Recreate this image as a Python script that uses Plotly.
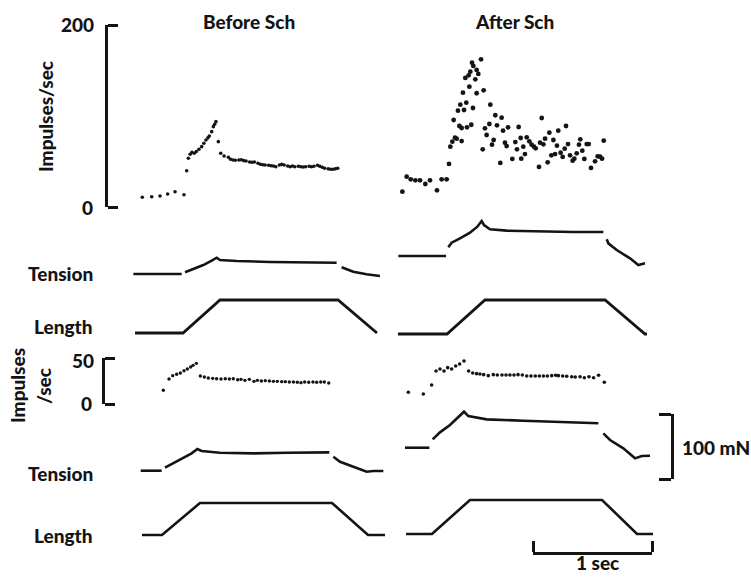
import plotly.graph_objects as go

W, H = 751, 577

# ---------------- data (time in s from stretch onset) ----------------
# Before Sch, top: impulses/sec
tl_imp_t = [-0.342, -0.263, -0.193, -0.129, -0.067, 0.008, 0.031, 0.045, 0.060, 0.075,
            0.095, 0.112, 0.134, 0.157, 0.175, 0.193, 0.210, 0.221, 0.241, 0.255,
            0.266, 0.277, 0.297, 0.317, 0.345, 0.381,
            0.40, 0.42, 0.44, 0.47, 0.49, 0.51, 0.53, 0.56, 0.58, 0.60,
            0.63, 0.65, 0.67, 0.69, 0.72, 0.74, 0.76, 0.78, 0.81, 0.83,
            0.85, 0.88, 0.90, 0.92, 0.94, 0.97, 0.99, 1.01, 1.03, 1.06,
            1.08, 1.10, 1.13, 1.15, 1.17, 1.19, 1.22, 1.24, 1.26, 1.28, 1.30]
tl_imp_v = [10.7, 11.3, 12.1, 14.3, 16.8, 13.5, 39.9, 53.5, 58.0, 60.0,
            59.0, 61.0, 63.4, 66.3, 70.0, 73.6, 76.0, 78.0, 82.8, 88.3,
            91.0, 93.8, 71.8, 59.0, 56.0, 54.6,
            52.4, 51.7, 51.3, 51.7, 52.0, 51.0, 50.5, 49.5, 49.1, 49.5,
            48.0, 47.0, 46.5, 46.1, 45.8, 45.4, 45.1, 44.3, 46.1, 46.8,
            46.1, 45.1, 44.3, 45.1, 44.3, 44.7, 44.3, 44.0, 44.3, 44.7,
            44.3, 44.7, 45.8, 44.7, 43.7, 42.6, 41.9, 41.5, 41.5, 41.9, 42.6]

# After Sch, top: impulses/sec
tr_imp_t = [-0.375, -0.339, -0.305, -0.266, -0.227, -0.182, -0.143, -0.084, -0.045, -0.003,
            0.017, 0.028, 0.045, 0.067, 0.081, 0.123, 0.056, 0.104, 0.123, 0.092,
            0.112, 0.143, 0.162, 0.134, 0.168, 0.188, 0.154, 0.182, 0.196, 0.210,
            0.221, 0.238, 0.249, 0.263, 0.286, 0.204, 0.218, 0.249, 0.308, 0.319,
            0.333, 0.300, 0.364, 0.356, 0.392, 0.378, 0.406, 0.420, 0.459, 0.471,
            0.448, 0.487, 0.501, 0.513, 0.549, 0.574, 0.588, 0.602, 0.619, 0.624,
            0.641, 0.655, 0.670, 0.692, 0.711, 0.731, 0.745, 0.773, 0.782, 0.796,
            0.810, 0.824, 0.846, 0.860, 0.877, 0.894, 0.908, 0.924, 0.935, 0.955,
            0.972, 0.989, 1.000, 1.017, 1.034, 1.056, 1.070, 1.090, 1.109, 1.120,
            1.137, 1.154, 1.174, 1.191, 1.210, 1.244, 1.266, 1.286, 1.303, 1.317]
tr_imp_v = [16.8, 33.3, 30.4, 29.3, 29.3, 25.3, 29.3, 18.3, 30.4, 30.4,
            47.3, 66.3, 71.8, 76.2, 75.1, 72.5, 95.6, 89.0, 86.8, 105.8,
            112.4, 106.6, 114.6, 125.6, 87.6, 132.2, 141.8, 144.7, 148.7, 158.6,
            155.0, 140.3, 150.6, 146.2, 162.3, 90.4, 108.8, 125.0, 128.2, 86.5,
            79.1, 63.4, 112.4, 91.2, 73.6, 68.5, 100.8, 89.8, 98.2, 83.9,
            48.4, 70.7, 67.0, 87.6, 52.8, 71.4, 63.4, 87.9, 75.8, 53.1,
            66.3, 58.2, 76.6, 72.2, 68.5, 66.3, 64.5, 44.0, 70.7, 97.8,
            68.9, 75.1, 49.1, 81.7, 56.8, 73.6, 58.2, 67.4, 83.9, 59.7,
            55.0, 64.1, 89.0, 69.2, 56.8, 50.9, 53.1, 59.0, 68.5, 74.4,
            61.9, 52.8, 69.2, 69.2, 42.9, 50.2, 55.7, 55.3, 53.1, 72.9]

# Tension (mN, relative to resting level); None = gap in trace
tl_ten_t = [-0.417, -0.011, None, 0.017, 0.087, 0.171, 0.241, 0.283, 0.311, 0.451,
            0.731, 1.011, 1.291, None, 1.333, 1.431, 1.543, 1.655]
tl_ten_v = [0.0, 0.0, None, 2.6, 7.2, 13.8, 20.5, 25.1, 21.5, 20.0,
            18.5, 17.4, 17.4, None, 10.3, 3.6, -0.5, -3.1]
tr_ten_t = [-0.409, -0.008, None, 0.011, 0.039, 0.109, 0.193, 0.255, 0.291, 0.311,
            0.361, 0.501, 0.782, 1.062, 1.314, None, 1.342, 1.356, 1.426, 1.538,
            1.608, 1.664]
tr_ten_v = [0.0, 0.0, None, 13.3, 20.5, 27.2, 35.9, 45.1, 53.8, 47.7,
            41.0, 39.0, 37.4, 36.9, 36.9, None, 25.6, 19.5, 9.2, -3.6,
            -13.8, -11.3]
bl_ten_t = [-0.179, -0.003, None, 0.025, 0.123, 0.207, 0.249, 0.297, 0.333, 0.487,
            0.768, 1.048, 1.406, None, 1.440, 1.496, 1.608, 1.720, 1.776, 1.860]
bl_ten_v = [0.0, 0.0, None, 4.6, 13.8, 21.5, 26.7, 33.4, 30.3, 27.7,
            26.7, 27.7, 28.2, None, 21.5, 13.8, 6.2, -1.5, -0.5, -0.5]
br_ten_t = [-0.227, -0.022, None, 0.006, 0.067, 0.151, 0.221, 0.269, 0.305, 0.459,
            0.768, 1.048, 1.398, None, 1.440, 1.496, 1.608, 1.706, 1.762, 1.832]
br_ten_v = [0.0, 0.0, None, 12.8, 23.6, 34.9, 46.7, 55.4, 48.7, 43.6,
            41.5, 40.0, 37.5, None, 22.1, 11.8, -1.0, -16.4, -12.8, -12.3]

# Length (relative stretch)
tl_len_t = [-0.403, 0.0, 0.311, 1.303, 1.630]
tl_len_v = [0.0, 0.0, 1.00, 1.00, 0.0]
tr_len_t = [-0.412, 0.0, 0.319, 1.328, 1.664, 1.680]
tr_len_v = [0.0, 0.0, 1.03, 1.03, 0.0, 0.0]
bl_len_t = [-0.168, 0.0, 0.319, 1.429, 1.731, 1.874]
bl_len_v = [0.0, 0.0, 0.97, 0.97, 0.0, 0.0]
br_len_t = [-0.218, 0.0, 0.319, 1.429, 1.723, 1.857]
br_len_v = [0.0, 0.0, 1.03, 1.03, 0.0, 0.0]

# Bottom: impulses/sec
bl_imp_t = [0.011, 0.059, 0.090, 0.123, 0.154, 0.185, 0.213, 0.241, 0.261, 0.289,
            0.322, 0.356, 0.389, 0.426, 0.459, 0.496, 0.532, 0.566, 0.599, 0.636,
            0.664, 0.697, 0.734, 0.773, 0.801, 0.835, 0.868, 0.902, 0.936, 0.969,
            1.006, 1.036, 1.070, 1.104, 1.137, 1.168, 1.199, 1.233, 1.269, 1.300,
            1.334, 1.364, 1.401]
bl_imp_v = [14.9, 27.2, 30.8, 32.3, 33.7, 36.2, 38.0, 40.2, 42.0, 44.2,
            30.4, 29.3, 28.3, 27.9, 27.5, 27.2, 27.5, 27.2, 27.5, 26.4,
            26.8, 25.7, 26.8, 24.6, 25.7, 25.0, 25.4, 25.0, 24.6, 24.6,
            24.3, 24.3, 23.9, 23.9, 23.6, 23.2, 23.9, 23.6, 23.9, 23.6,
            23.9, 23.9, 22.8]
br_imp_t = [-0.199, -0.073, -0.003, 0.034, 0.067, 0.101, 0.132, 0.165, 0.199, 0.232,
            0.269, 0.308, 0.342, 0.375, 0.403, 0.434, 0.473, 0.515, 0.549, 0.588,
            0.622, 0.655, 0.689, 0.723, 0.759, 0.796, 0.832, 0.868, 0.902, 0.936,
            0.969, 1.006, 1.039, 1.062, 1.098, 1.132, 1.174, 1.204, 1.244, 1.280,
            1.319, 1.358, 1.400, 1.448]
br_imp_v = [12.7, 10.9, 20.7, 35.9, 38.0, 35.9, 39.5, 38.0, 41.3, 43.5,
            46.7, 35.9, 33.7, 33.0, 32.6, 31.9, 30.8, 31.9, 31.5, 31.5,
            31.5, 31.5, 31.5, 31.9, 31.5, 30.4, 30.4, 30.4, 30.4, 30.4,
            30.4, 30.8, 31.2, 30.8, 30.4, 30.1, 29.7, 29.3, 29.7, 28.6,
            29.7, 28.6, 31.2, 23.6]

# Axis tick values and calibration bars
top_imp_ticks = [0, 200]
bottom_imp_ticks = [0, 50]
scale_time = [0, 1]        # s
scale_tension = [0, 100]   # mN

# ---------------- layout helpers (pixels -> paper / ranges) ----------------
PPS = 119.0  # px per second
INK = "#141414"
FONT = dict(family="Lato", size=19, color=INK, weight=900)


def xdom(p0, p1):
    return [p0 / W, p1 / W]


def ydom(ptop, pbot):
    return [1 - pbot / H, 1 - ptop / H]


def time_axis(p0, p1, pzero):
    return dict(domain=xdom(p0, p1), range=[(p0 - pzero) / PPS, (p1 - pzero) / PPS],
                anchor="free", position=0, visible=False, fixedrange=True)


def val_axis(ptop, pbot, pzero, ppu):
    return dict(domain=ydom(ptop, pbot), range=[-(pbot - pzero) / ppu, (pzero - ptop) / ppu],
                anchor="free", position=0, visible=False, fixedrange=True)


def bracket(ax, **kw):
    # calibration bracket: axis line with outward end ticks
    ax.update(visible=True, showline=True, linewidth=3, linecolor=INK, ticks="outside",
              ticklen=10, tickwidth=3, tickcolor=INK, showgrid=False, zeroline=False,
              showticklabels=False, anchor="free", fixedrange=True)
    ax.update(kw)
    return ax


fig = go.Figure()


def dots(x, y, xa, ya, size):
    fig.add_trace(go.Scatter(x=x, y=y, xaxis=xa, yaxis=ya, mode="markers",
                             marker=dict(size=size, color=INK, line=dict(width=0)),
                             cliponaxis=False, hoverinfo="skip", showlegend=False))


def trace(x, y, xa, ya, width=2.6):
    fig.add_trace(go.Scatter(x=x, y=y, xaxis=xa, yaxis=ya, mode="lines",
                             line=dict(color=INK, width=width), connectgaps=False,
                             hoverinfo="skip", showlegend=False))


dots(tl_imp_t, tl_imp_v, "x", "y", 3.6)
dots(tr_imp_t, tr_imp_v, "x2", "y", 4.8)
trace(tl_ten_t, tl_ten_v, "x", "y2")
trace(tr_ten_t, tr_ten_v, "x2", "y3")
trace(tl_len_t, tl_len_v, "x", "y4", 2.8)
trace(tr_len_t, tr_len_v, "x2", "y5", 2.8)
dots(bl_imp_t, bl_imp_v, "x3", "y6", 3.4)
dots(br_imp_t, br_imp_v, "x4", "y6", 3.6)
trace(bl_ten_t, bl_ten_v, "x3", "y7")
trace(br_ten_t, br_ten_v, "x4", "y8")
trace(bl_len_t, bl_len_v, "x3", "y9", 2.6)
trace(br_len_t, br_len_v, "x4", "y10", 2.6)
fig.add_trace(go.Scatter(x=scale_time, y=scale_tension, xaxis="x5", yaxis="y11",
                         mode="markers", marker=dict(opacity=0), hoverinfo="skip",
                         showlegend=False))

layout = dict(
    width=W, height=H, margin=dict(l=0, r=0, t=0, b=0, autoexpand=False),
    paper_bgcolor="white", plot_bgcolor="rgba(0,0,0,0)",
    font=FONT, showlegend=False,
    xaxis=time_axis(110, 390, 183),
    xaxis2=time_axis(392, 700, 447),
    xaxis3=time_axis(110, 390, 162),
    xaxis4=time_axis(392, 700, 432),
    xaxis5=bracket(dict(domain=xdom(533, 652), range=[0, 1], side="top",
                        position=1 - 553 / H),
                   tickvals=scale_time, ticklen=11),
    yaxis=bracket(dict(domain=ydom(25, 207), range=[0, 200], side="right",
                       position=106 / W),
                  tickvals=top_imp_ticks),
    yaxis2=val_axis(240, 290, 274, 0.65),
    yaxis3=val_axis(205, 275, 256, 0.65),
    yaxis4=val_axis(290, 340, 333, 33),
    yaxis5=val_axis(290, 340, 334, 33),
    yaxis6=bracket(dict(domain=ydom(358, 404), range=[0, 50], side="right",
                        position=103 / W),
                   tickvals=bottom_imp_ticks),
    yaxis7=val_axis(435, 485, 470.7, 0.65),
    yaxis8=val_axis(400, 470, 447.7, 0.65),
    yaxis9=val_axis(495, 545, 535, 33),
    yaxis10=val_axis(495, 545, 534, 33),
    yaxis11=bracket(dict(domain=ydom(414, 479), range=[0, 100], side="left",
                         position=672 / W),
                    tickvals=scale_tension, ticklen=12),
)
fig.update_layout(**layout)


def label(text, px, py, xanchor="center", angle=0, yanchor="middle"):
    fig.add_annotation(text=text, x=px / W, y=1 - py / H, xref="paper", yref="paper",
                       xanchor=xanchor, yanchor=yanchor, showarrow=False,
                       textangle=angle, font=FONT)


label("Before Sch", 249, 21)
label("After Sch", 514, 21)
label("Impulses/sec", 45, 117, angle=-90)
label(str(top_imp_ticks[1]), 96, 25, xanchor="right")
label(str(top_imp_ticks[0]), 95, 207, xanchor="right")
label("Tension", 95, 273, xanchor="right")
label("Length", 95, 326, xanchor="right")
label("Impulses", 17, 386, angle=-90)
label("/sec", 43, 386, angle=-90)
label(str(bottom_imp_ticks[1]), 96, 360, xanchor="right")
label(str(bottom_imp_ticks[0]), 94, 403, xanchor="right")
label("Tension", 95, 473, xanchor="right")
label("Length", 95, 535, xanchor="right")
label("100 mN", 680, 447, xanchor="left")
label("1 sec", 597, 576, yanchor="bottom")

fig.write_html("out.html")
